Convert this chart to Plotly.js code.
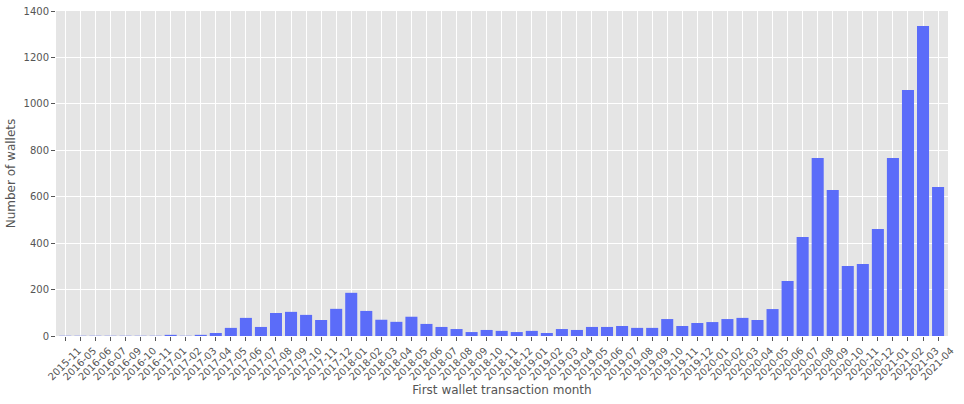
<!DOCTYPE html>
<html>
<head>
<meta charset="utf-8">
<script src="https://cdn.plot.ly/plotly-3.0.1.min.js"></script>
<style>html,body{margin:0;padding:0;background:#fff;}#chart{width:964px;height:404px;}</style>
</head>
<body>
<div id="chart"></div>
<script>
const months = ["2015-11","2016-05","2016-06","2016-07","2016-09","2016-10","2016-11",
  "2017-01","2017-02","2017-03","2017-04","2017-05","2017-06","2017-07","2017-08","2017-09","2017-10","2017-11","2017-12",
  "2018-01","2018-02","2018-03","2018-04","2018-05","2018-06","2018-07","2018-08","2018-09","2018-10","2018-11","2018-12",
  "2019-01","2019-02","2019-03","2019-04","2019-05","2019-06","2019-07","2019-08","2019-09","2019-10","2019-11","2019-12",
  "2020-01","2020-02","2020-03","2020-04","2020-05","2020-06","2020-07","2020-08","2020-09","2020-10","2020-11","2020-12",
  "2021-01","2021-02","2021-03","2021-04"];
const wallets = [1,1,1,1,1,1,1,
  5,1,5,13,35,78,39,99,104,91,69,117,
  186,108,70,61,83,52,39,30,17,26,22,17,
  22,13,30,26,39,39,43,35,35,73,43,56,
  60,73,78,69,116,237,426,767,629,302,310,461,
  767,1060,1335,642];
const yTicks = [0,200,400,600,800,1000,1200,1400];

const trace = {
  type: 'bar',
  x: months,
  y: wallets,
  width: 0.8,
  marker: {color: '#5b6cf9', line: {width: 0}},
  hoverinfo: 'skip'
};

const font = {family: 'DejaVu Sans, sans-serif', size: 10, color: '#555555'};

const layout = {
  width: 964, height: 404,
  margin: {l: 56, r: 16, t: 11, b: 68, pad: 0},
  paper_bgcolor: '#ffffff',
  plot_bgcolor: '#e5e5e5',
  font: font,
  showlegend: false,
  bargap: 0.2,
  xaxis: {
    type: 'category',
    range: [-0.62, months.length - 1 + 0.66],
    tickmode: 'array',
    tickvals: months,
    ticktext: months,
    tickangle: -45,
    ticklabelshift: 13,
    ticklabelstandoff: 0,
    ticks: 'outside', ticklen: 4, tickwidth: 1, tickcolor: '#555555',
    showgrid: true, gridcolor: '#ffffff', gridwidth: 1,
    zeroline: false, showline: false,
    tickfont: font,
    automargin: false,
    title: {text: 'First wallet transaction month', font: {family: 'DejaVu Sans, sans-serif', size: 12, color: '#555555'}, standoff: 4}
  },
  yaxis: {
    range: [0, 1400],
    tickmode: 'array',
    tickvals: yTicks,
    ticktext: yTicks.map(String),
    ticks: 'outside', ticklen: 4, tickwidth: 1, tickcolor: '#555555',
    showgrid: true, gridcolor: '#ffffff', gridwidth: 1,
    zeroline: false, showline: false,
    tickfont: font,
    automargin: false,
    title: {text: 'Number of wallets', font: {family: 'DejaVu Sans, sans-serif', size: 12, color: '#555555'}, standoff: 5}
  }
};

Plotly.newPlot('chart', [trace], layout, {staticPlot: true, displayModeBar: false});
</script>
</body>
</html>
